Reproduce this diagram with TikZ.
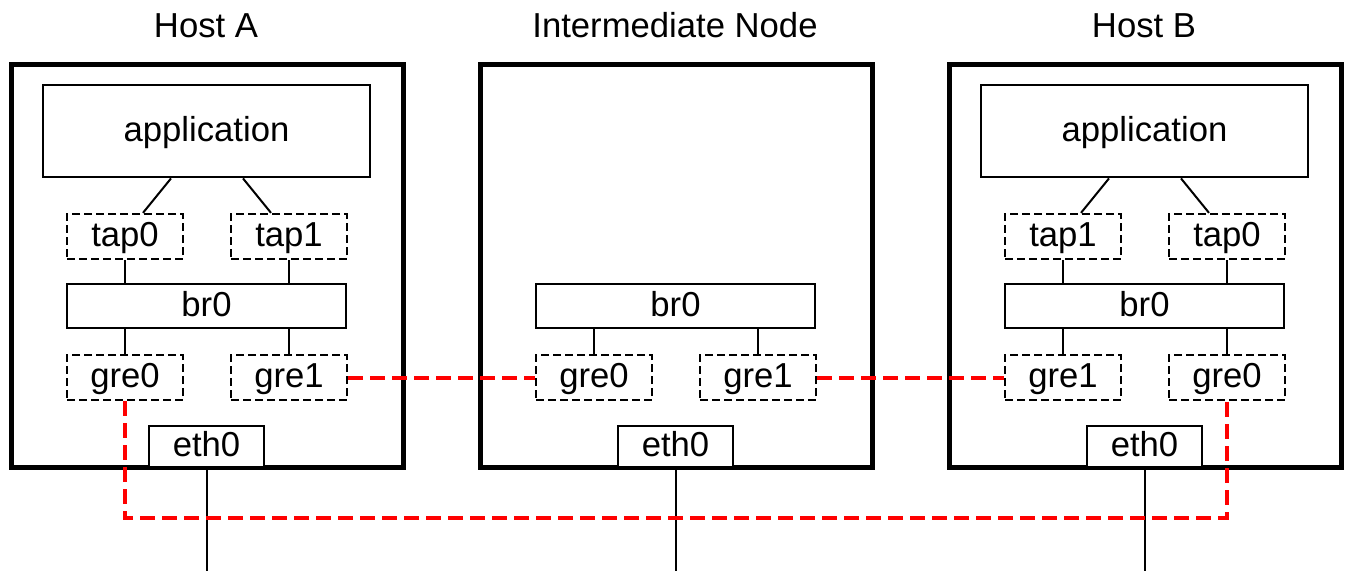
\documentclass[tikz,border=0pt]{standalone}
\usepackage{fontspec}
\setmainfont{Liberation Sans}
\usetikzlibrary{calc}
\newdimen\pxu \pxu=0.75pt
\tikzset{
 hostbox/.style={draw, line width=3.75pt, minimum width=392.5\pxu, minimum height=403\pxu, inner sep=0},
 solidbox/.style={draw, fill=white, line width=2.1pt, inner sep=0, text height=18.7pt, text depth=3.6pt},
 dashbox/.style={draw, line width=1.7pt, dash pattern=on 6pt off 3pt, inner sep=0, minimum width=116\pxu, minimum height=45\pxu, text height=18.7pt, text depth=3.6pt},
 appbox/.style={solidbox, minimum width=327\pxu, minimum height=92\pxu},
 brbox/.style={solidbox, minimum width=279\pxu, minimum height=44\pxu},
 ethbox/.style={solidbox, minimum width=115\pxu, minimum height=41.5\pxu},
 link/.style={line width=1.5pt},
 tunnel/.style={draw=red, line width=3pt, dash pattern=on 11.25pt off 5.25pt},
 title/.style={anchor=base, inner sep=0},
}
\begin{document}
\begin{tikzpicture}[x=0.75pt, y=-0.75pt, font=\fontsize{26}{31}\selectfont]
\useasboundingbox (0,0) rectangle (1346,571);
% ---- Host A
\node[title] (tA) at (206,37) {Host A};
\node[hostbox] (hostA) at (207.25,266) {};
\node[appbox] (appA) at (206.5,131) {application};
\node[dashbox] (tap0A) at (125,236.5) {tap0};
\node[dashbox] (tap1A) at (289,236.5) {tap1};
\node[brbox] (brA) at (206.5,306) {br0};
\node[dashbox] (gre0A) at (125,377.5) {gre0};
\node[dashbox] (gre1A) at (289,377.5) {gre1};
\node[ethbox] (ethA) at (206.5,446.75) {eth0};
\coordinate (busA) at (206.5,571);
% ---- Intermediate node
\node[title] (tI) at (675,37) {Intermediate Node};
\node[hostbox] (hostI) at (676.25,266) {};
\node[brbox] (brI) at (675.5,306) {br0};
\node[dashbox] (gre0I) at (594,377.5) {gre0};
\node[dashbox] (gre1I) at (758,377.5) {gre1};
\node[ethbox] (ethI) at (675.5,446.75) {eth0};
\coordinate (busI) at (675.5,571);
% ---- Host B
\node[title] (tB) at (1144,37) {Host B};
\node[hostbox] (hostB) at (1145.25,266) {};
\node[appbox] (appB) at (1144.5,131) {application};
\node[dashbox] (tap1B) at (1063,236.5) {tap1};
\node[dashbox] (tap0B) at (1227,236.5) {tap0};
\node[brbox] (brB) at (1144.5,306) {br0};
\node[dashbox] (gre1B) at (1063,377.5) {gre1};
\node[dashbox] (gre0B) at (1227,377.5) {gre0};
\node[ethbox] (ethB) at (1144.5,446.75) {eth0};
\coordinate (busB) at (1144.5,571);
% ---- links Host A
\draw[link] ($(appA.south)+(-35.5,0)$) -- ($(tap0A.north)+(18,0)$);
\draw[link] ($(appA.south)+(36.5,0)$) -- ($(tap1A.north)+(-18,0)$);
\draw[link] (tap0A.south) -- (tap0A.south |- brA.north);
\draw[link] (tap1A.south) -- (tap1A.south |- brA.north);
\draw[link] (gre0A.north) -- (gre0A.north |- brA.south);
\draw[link] (gre1A.north) -- (gre1A.north |- brA.south);
\draw[link] (ethA.south) -- (busA);
% ---- links Intermediate
\draw[link] (gre0I.north) -- (gre0I.north |- brI.south);
\draw[link] (gre1I.north) -- (gre1I.north |- brI.south);
\draw[link] (ethI.south) -- (busI);
% ---- links Host B
\draw[link] ($(appB.south)+(-35.5,0)$) -- ($(tap1B.north)+(18,0)$);
\draw[link] ($(appB.south)+(36.5,0)$) -- ($(tap0B.north)+(-18,0)$);
\draw[link] (tap1B.south) -- (tap1B.south |- brB.north);
\draw[link] (tap0B.south) -- (tap0B.south |- brB.north);
\draw[link] (gre1B.north) -- (gre1B.north |- brB.south);
\draw[link] (gre0B.north) -- (gre0B.north |- brB.south);
\draw[link] (ethB.south) -- (busB);
% ---- GRE tunnels
\coordinate (redY) at (0,518);
\draw[tunnel] (gre0A.south) -- (gre0A.south |- redY) -- (gre0B.south |- redY) -- (gre0B.south);
\draw[tunnel] (gre1A.east) -- (gre0I.west);
\draw[tunnel] (gre1I.east) -- (gre1B.west);
\end{tikzpicture}
\end{document}
